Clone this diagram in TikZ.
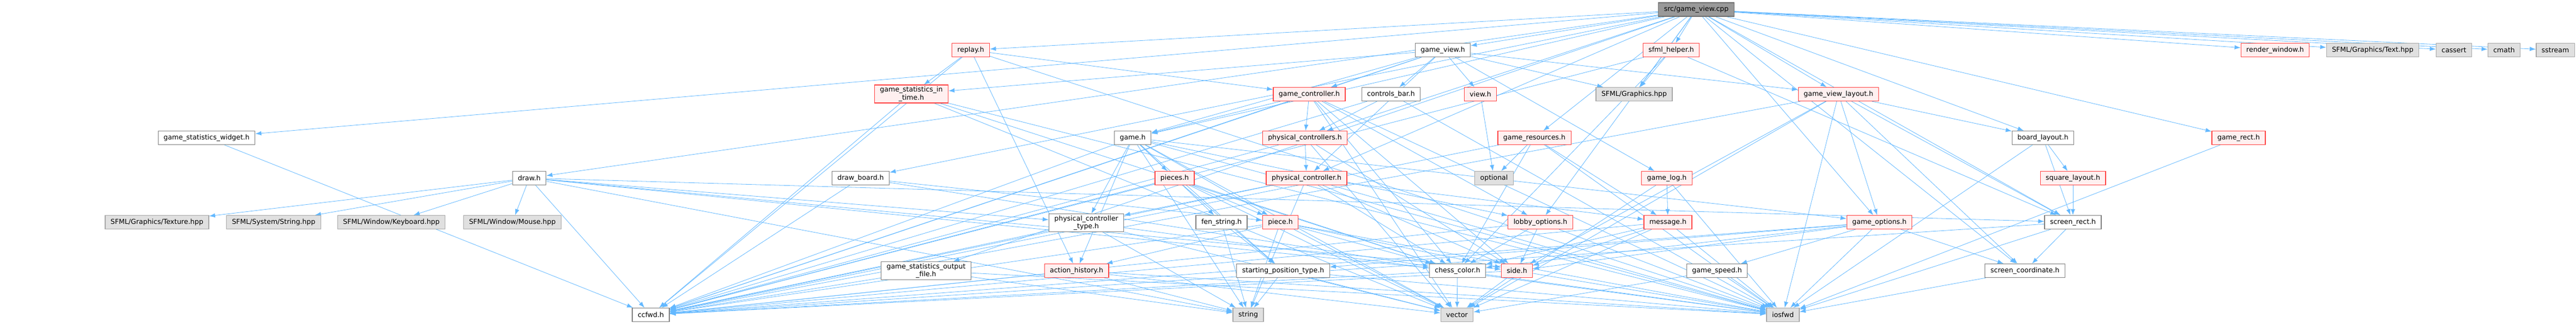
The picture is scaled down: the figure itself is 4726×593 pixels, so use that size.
\documentclass[tikz,border=0pt]{standalone}
\usepackage{fontspec}
\setmainfont{DejaVu Sans}
\usepackage{tikz}
\usetikzlibrary{arrows.meta,positioning}
\pgfdeclarelayer{edges}
\pgfsetlayers{edges,main}

\definecolor{edgeblue}{HTML}{63B8FF}
\definecolor{boxline}{HTML}{808080}
\definecolor{redline}{HTML}{FF4444}
\definecolor{redfill}{HTML}{FFF0F0}
\definecolor{sysline}{HTML}{A8A8A8}
\definecolor{sysfill}{HTML}{E0E0E0}
\definecolor{rootfill}{HTML}{999999}
\definecolor{rootline}{HTML}{6E6E6E}

\begin{document}
\begin{tikzpicture}[x=1pt, y=1pt, font=\fontsize{12.5}{14.5}\selectfont,
  box/.style={rectangle, line width=1.2pt, minimum height=25pt, inner xsep=10pt, inner ysep=3pt, align=center},
  hdr/.style={box, draw=boxline, fill=white},
  hdrred/.style={box, draw=redline, fill=redfill},
  sysinc/.style={box, draw=sysline, fill=sysfill},
  rootfile/.style={box, draw=rootline, fill=rootfill},
  dep/.style={draw=edgeblue, line width=0.8pt, -{Latex[length=11pt,width=8pt]}}]
  \useasboundingbox (0,0) rectangle (4726,-593);

  % row 0
  \node[rootfile] (root) at (3112,-17.5) {src/game\_view.cpp};
  % row 1
  \node[hdrred] (replay) at (1781,-92) {replay.h};
  \node[hdr] (gvh) at (2647,-92) {game\_view.h};
  \node[hdrred] (sfh) at (3066,-92) {sfml\_helper.h};
  \node[hdrred] (rw) at (4174,-92) {render\_window.h};
  \node[sysinc] (text) at (4353,-92) {SFML/Graphics/Text.hpp};
  \node[sysinc] (cassert) at (4502,-92) {cassert};
  \node[sysinc] (cmath) at (4594,-92) {cmath};
  \node[sysinc] (sstream) at (4688,-92) {sstream};
  % row 2
  \node[hdrred] (gsit) at (1672,-172.5) {game\_statistics\_in\\\_time.h};
  \node[hdrred] (gctl) at (2402,-173) {game\_controller.h};
  \node[hdr] (cbar) at (2552,-173) {controls\_bar.h};
  \node[hdrred] (view) at (2716,-173) {view.h};
  \node[sysinc] (sfg) at (2998,-173) {SFML/Graphics.hpp};
  \node[hdrred] (gvl) at (3373,-173) {game\_view\_layout.h};
  % row 3
  \node[hdr] (gsw) at (379,-253) {game\_statistics\_widget.h};
  \node[hdr] (game) at (2078,-253) {game.h};
  \node[hdrred] (pcs) at (2394,-253) {physical\_controllers.h};
  \node[hdrred] (gres) at (2815,-253) {game\_resources.h};
  \node[hdr] (blay) at (3748,-253) {board\_layout.h};
  \node[hdrred] (grect) at (4107,-253) {game\_rect.h};
  % row 4
  \node[hdr] (draw) at (971,-327) {draw.h};
  \node[hdr] (dboard) at (1579,-327) {draw\_board.h};
  \node[hdrred] (pieces) at (2155,-327) {pieces.h};
  \node[hdrred] (pc) at (2397,-327) {physical\_controller.h};
  \node[sysinc] (opt) at (2741,-327) {optional};
  \node[hdrred] (glog) at (3058,-327) {game\_log.h};
  \node[hdrred] (slay) at (3803,-327) {square\_layout.h};
  % row 5
  \node[sysinc] (tex) at (288,-408) {SFML/Graphics/Texture.hpp};
  \node[sysinc] (sstr) at (502,-408) {SFML/System/String.hpp};
  \node[sysinc] (kbd) at (718,-408) {SFML/Window/Keyboard.hpp};
  \node[sysinc] (mouse) at (940,-408) {SFML/Window/Mouse.hpp};
  \node[hdr] (pct) at (1993,-409) {physical\_controller\\\_type.h};
  \node[hdr] (fen) at (2241,-408) {fen\_string.h};
  \node[hdrred] (piece) at (2349,-408) {piece.h};
  \node[hdrred] (lobby) at (2826,-408) {lobby\_options.h};
  \node[hdrred] (msg) at (3060,-408) {message.h};
  \node[hdrred] (gopt) at (3448,-408) {game\_options.h};
  \node[hdr] (srect) at (3803,-408) {screen\_rect.h};
  % row 6
  \node[hdr] (gsof) at (1699,-497) {game\_statistics\_output\\\_file.h};
  \node[hdrred] (ahist) at (1975,-497) {action\_history.h};
  \node[hdr] (spt) at (2354,-497) {starting\_position\_type.h};
  \node[hdr] (color) at (2674,-497) {chess\_color.h};
  \node[hdrred] (side) at (2783,-497) {side.h};
  \node[hdr] (gspeed) at (3150,-497) {game\_speed.h};
  \node[hdr] (scoord) at (3715,-497) {screen\_coordinate.h};
  % row 7
  \node[hdr] (ccfwd) at (1194,-578) {ccfwd.h};
  \node[sysinc] (string) at (2290,-578) {string};
  \node[sysinc] (vector) at (2673,-578) {vector};
  \node[sysinc] (iosfwd) at (3271,-578) {iosfwd};

  \begin{pgfonlayer}{edges}
  % includes of src/game_view.cpp
  \draw[dep] (root) -- (gvh); \draw[dep] (root) -- (sfh); \draw[dep] (root) -- (sfg);
  \draw[dep] (root) -- (gres); \draw[dep] (root) -- (lobby); \draw[dep] (root) -- (rw);
  \draw[dep] (root) -- (text); \draw[dep] (root) -- (cassert); \draw[dep] (root) -- (cmath);
  \draw[dep] (root) -- (sstream); \draw[dep] (root) -- (grect); \draw[dep] (root) -- (gvl);
  \draw[dep] (root) -- (blay); \draw[dep] (root) -- (srect); \draw[dep] (root) -- (scoord);
  \draw[dep] (root) -- (gopt); \draw[dep] (root) -- (replay); \draw[dep] (root) -- (gsw);
  \draw[dep] (root) -- (draw); \draw[dep] (root) -- (dboard); \draw[dep] (root) -- (game);
  \draw[dep] (root) -- (pc); \draw[dep] (root) -- (pcs); \draw[dep] (root) -- (gsof);

  % headers
  \draw[dep] (gvh) -- (gctl); \draw[dep] (gvh) -- (cbar); \draw[dep] (gvh) -- (view);
  \draw[dep] (gvh) -- (sfg); \draw[dep] (gvh) -- (pc); \draw[dep] (gvh) -- (glog);
  \draw[dep] (gvh) -- (gvl); \draw[dep] (gvh) -- (ccfwd); \draw[dep] (gvh) -- (game);
  \draw[dep] (gvh) -- (gsit);
  \draw[dep] (sfh) -- (sfg); \draw[dep] (sfh) -- (color); \draw[dep] (sfh) -- (ccfwd);
  \draw[dep] (sfh) -- (srect);
  \draw[dep] (replay) -- (gsit); \draw[dep] (replay) -- (ahist); \draw[dep] (replay) -- (gctl);
  \draw[dep] (replay) -- (ccfwd); \draw[dep] (replay) -- (iosfwd);
  \draw[dep] (gsit) -- (ccfwd); \draw[dep] (gsit) -- (color); \draw[dep] (gsit) -- (vector);
  \draw[dep] (gsit) -- (iosfwd);
  \draw[dep] (gctl) -- (game); \draw[dep] (gctl) -- (pcs); \draw[dep] (gctl) -- (side);
  \draw[dep] (gctl) -- (color); \draw[dep] (gctl) -- (lobby); \draw[dep] (gctl) -- (ccfwd);
  \draw[dep] (gctl) -- (iosfwd); \draw[dep] (gctl) -- (vector);
  \draw[dep] (cbar) -- (pcs); \draw[dep] (cbar) -- (ccfwd); \draw[dep] (cbar) -- (iosfwd);
  \draw[dep] (view) -- (opt);
  \draw[dep] (gvl) -- (blay); \draw[dep] (gvl) -- (srect); \draw[dep] (gvl) -- (scoord);
  \draw[dep] (gvl) -- (gopt); \draw[dep] (gvl) -- (iosfwd); \draw[dep] (gvl) -- (ccfwd);
  \draw[dep] (gvl) -- (side); \draw[dep] (gvl) -- (vector);
  \draw[dep] (gsw) -- (ccfwd);
  \draw[dep] (game) -- (pieces); \draw[dep] (game) -- (piece); \draw[dep] (game) -- (fen);
  \draw[dep] (game) -- (ahist); \draw[dep] (game) -- (spt); \draw[dep] (game) -- (ccfwd);
  \draw[dep] (game) -- (string); \draw[dep] (game) -- (vector); \draw[dep] (game) -- (iosfwd);
  \draw[dep] (game) -- (lobby); \draw[dep] (game) -- (gopt); \draw[dep] (game) -- (pct);
  \draw[dep] (pcs) -- (pc); \draw[dep] (pcs) -- (ccfwd); \draw[dep] (pcs) -- (vector);
  \draw[dep] (pcs) -- (side);
  \draw[dep] (gres) -- (opt); \draw[dep] (gres) -- (msg); \draw[dep] (gres) -- (color);
  \draw[dep] (gres) -- (ccfwd); \draw[dep] (gres) -- (iosfwd);
  \draw[dep] (blay) -- (slay); \draw[dep] (blay) -- (srect); \draw[dep] (blay) -- (iosfwd);
  \draw[dep] (grect) -- (iosfwd);
  \draw[dep] (draw) -- (tex); \draw[dep] (draw) -- (sstr); \draw[dep] (draw) -- (kbd);
  \draw[dep] (draw) -- (mouse); \draw[dep] (draw) -- (ccfwd); \draw[dep] (draw) -- (pct);
  \draw[dep] (draw) -- (color); \draw[dep] (draw) -- (side); \draw[dep] (draw) -- (string);
  \draw[dep] (draw) -- (srect);
  \draw[dep] (dboard) -- (ccfwd); \draw[dep] (dboard) -- (piece); \draw[dep] (dboard) -- (color);
  \draw[dep] (pieces) -- (piece); \draw[dep] (pieces) -- (spt); \draw[dep] (pieces) -- (ccfwd);
  \draw[dep] (pieces) -- (vector); \draw[dep] (pieces) -- (color);
  \draw[dep] (pc) -- (pct); \draw[dep] (pc) -- (msg); \draw[dep] (pc) -- (ccfwd);
  \draw[dep] (pc) -- (side); \draw[dep] (pc) -- (color); \draw[dep] (pc) -- (string);
  \draw[dep] (pc) -- (iosfwd);
  \draw[dep] (glog) -- (msg); \draw[dep] (glog) -- (iosfwd); \draw[dep] (glog) -- (vector);
  \draw[dep] (slay) -- (srect);
  \draw[dep] (pct) -- (ccfwd); \draw[dep] (pct) -- (string); \draw[dep] (pct) -- (iosfwd);
  \draw[dep] (pct) -- (vector);
  \draw[dep] (fen) -- (string); \draw[dep] (fen) -- (spt);
  \draw[dep] (piece) -- (ahist); \draw[dep] (piece) -- (color); \draw[dep] (piece) -- (side);
  \draw[dep] (piece) -- (vector); \draw[dep] (piece) -- (iosfwd); \draw[dep] (piece) -- (ccfwd);
  \draw[dep] (piece) -- (string);
  \draw[dep] (lobby) -- (color); \draw[dep] (lobby) -- (side); \draw[dep] (lobby) -- (iosfwd);
  \draw[dep] (lobby) -- (ccfwd);
  \draw[dep] (msg) -- (color); \draw[dep] (msg) -- (side); \draw[dep] (msg) -- (vector);
  \draw[dep] (msg) -- (iosfwd); \draw[dep] (msg) -- (ccfwd);
  \draw[dep] (gopt) -- (gspeed); \draw[dep] (gopt) -- (scoord); \draw[dep] (gopt) -- (iosfwd);
  \draw[dep] (gopt) -- (side); \draw[dep] (gopt) -- (spt); \draw[dep] (gopt) -- (ccfwd);
  \draw[dep] (gopt) -- (color);
  \draw[dep] (srect) -- (scoord); \draw[dep] (srect) -- (iosfwd); \draw[dep] (srect) -- (ccfwd);
  \draw[dep] (gsof) -- (ccfwd); \draw[dep] (gsof) -- (string); \draw[dep] (gsof) -- (iosfwd);
  \draw[dep] (ahist) -- (ccfwd); \draw[dep] (ahist) -- (string); \draw[dep] (ahist) -- (vector);
  \draw[dep] (ahist) -- (iosfwd);
  \draw[dep] (spt) -- (string); \draw[dep] (spt) -- (iosfwd); \draw[dep] (spt) -- (vector);
  \draw[dep] (color) -- (vector); \draw[dep] (color) -- (iosfwd); \draw[dep] (color) -- (ccfwd);
  \draw[dep] (side) -- (vector); \draw[dep] (side) -- (iosfwd); \draw[dep] (side) -- (ccfwd);
  \draw[dep] (gspeed) -- (iosfwd); \draw[dep] (gspeed) -- (vector);
  \draw[dep] (scoord) -- (iosfwd);
  \end{pgfonlayer}
\end{tikzpicture}
\end{document}
